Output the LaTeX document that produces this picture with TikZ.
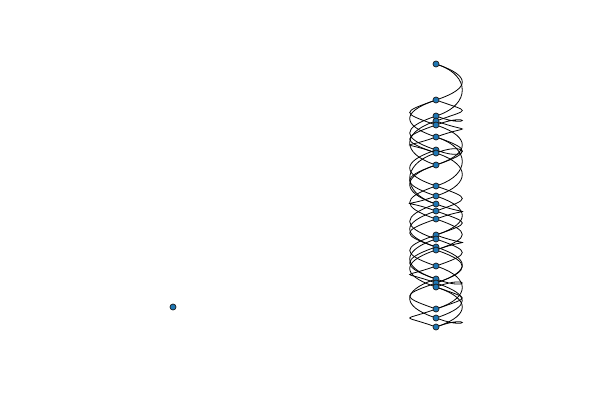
\documentclass[tikz,border=0pt]{standalone}
\usetikzlibrary{backgrounds}
\definecolor{nodeblue}{HTML}{1F77B4}
\tikzset{
  vert/.style={circle,inner sep=0pt,minimum size=6pt,fill=nodeblue,draw=black!90,line width=0.7pt},
  edge/.style={draw=black,line width=0.8pt},
  rgt/.style={to path={.. controls +(34,12) and +(34,-12) .. (\tikztotarget)}},
  lft/.style={to path={.. controls +(-34,12) and +(-34,-12) .. (\tikztotarget)}}
}
\begin{document}
\begin{tikzpicture}[x=1pt,y=-1pt]
\useasboundingbox (0,0) rectangle (600,400);
\foreach \i/\y in {1/64,2/100,3/116,4/121,5/125,6/137,7/150,8/153,9/165,10/186,11/196,12/204,13/211,14/219,15/235,16/239,17/247,18/250,19/266,20/279,21/283,22/287,23/309,24/318,25/327}
  \node[vert] (n\i) at (436,\y) {};
\node[vert] (n26) at (173,307) {};
\begin{pgfonlayer}{background}
\foreach \a/\b in {1/2,1/3,2/4,3/5,4/6,6/9,6/10,7/8,8/11,10/13,11/15,12/14,13/15,14/18,16/19,17/21,18/21,19/23,22/25,21/24,24/25,22/23,5/9,15/18,20/22}
  \draw[edge] (n\a) to[rgt] (n\b);
\foreach \a/\b in {2/5,2/6,3/7,4/9,5/8,7/10,9/12,9/11,10/14,12/16,13/17,15/19,16/20,17/20,18/22,20/24,21/23,23/25,8/12,11/13,6/8,14/17,19/21}
  \draw[edge] (n\a) to[lft] (n\b);
\end{pgfonlayer}
\end{tikzpicture}
\end{document}
